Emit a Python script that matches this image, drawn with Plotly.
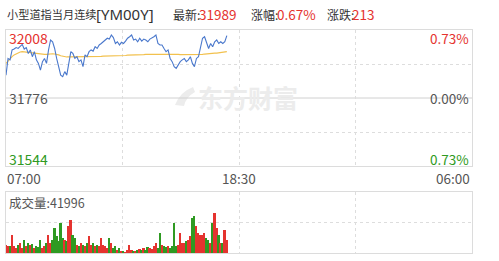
import plotly.graph_objects as go

# ---------------- data ----------------
prev_close = 31776
y_top, y_bot = 32008, 31544
pct_labels = ["0.73%", "0.00%", "0.73%"]
time_labels = ["07:00", "18:30", "06:00"]
session_minutes = 1380          # 07:00 -> 06:00 next day
step_minutes = 6

price = [31854, 31911, 31906, 31940, 31943, 31948, 31945, 31954, 31959, 31943,
         31948, 31928, 31940, 31917, 31934, 31906, 31894, 31871, 31900, 31911,
         31894, 31940, 31974, 31968, 31945, 31911, 31883, 31854, 31849, 31866,
         31854, 31889, 31934, 31928, 31911, 31917, 31900, 31906, 31883, 31923,
         31917, 31934, 31940, 31936, 31951, 31945, 31957, 31962, 31968, 31974,
         31980, 31977, 31991, 31982, 31962, 31968, 31957, 31966, 31962, 31970,
         31980, 31985, 31991, 31974, 31977, 31968, 31980, 31970, 31977, 31974,
         31968, 31977, 31980, 31985, 31991, 31962, 31957, 31957, 31945, 31934,
         31940, 31911, 31900, 31883, 31877, 31889, 31900, 31906, 31911, 31900,
         31906, 31917, 31894, 31883, 31911, 31917, 31945, 31980, 31985, 31968,
         31945, 31962, 31951, 31968, 31974, 31962, 31968, 31962, 31968, 31989]

avg_price = [31894, 31902, 31911, 31917, 31923, 31927, 31931, 31933, 31934, 31934,
             31933, 31932, 31931, 31930, 31928, 31927, 31926, 31925, 31925, 31925,
             31925, 31926, 31927, 31927, 31926, 31925, 31923, 31920, 31918, 31917,
             31916, 31916, 31916, 31916, 31916, 31916, 31916, 31916, 31916, 31917,
             31917, 31917, 31917, 31918, 31918, 31918, 31918, 31918, 31919, 31919,
             31919, 31919, 31920, 31920, 31920, 31920, 31920, 31921, 31921, 31921,
             31922, 31922, 31922, 31923, 31923, 31923, 31924, 31924, 31924, 31925,
             31925, 31925, 31926, 31926, 31927, 31927, 31927, 31927, 31927, 31927,
             31927, 31927, 31926, 31926, 31925, 31925, 31924, 31924, 31923, 31923,
             31923, 31923, 31923, 31923, 31923, 31923, 31924, 31925, 31926, 31927,
             31927, 31928, 31928, 31929, 31929, 31930, 31930, 31931, 31932, 31934]

volume = [25, 20, 20, 55, 20, 15, 25, 30, 15, 40,
          20, 30, 25, 28, 15, 22, 18, 40, 15, 20,
          30, 55, 30, 40, 75, 50, 35, 90, 45, 40,
          35, 80, 100, 55, 45, 25, 20, 30, 25, 20,
          30, 50, 25, 30, 20, 25, 20, 45, 25, 20,
          15, 45, 30, 15, 20, 10, 15, 5, 5, 3,
          8, 25, 8, 5, 5, 10, 12, 8, 15, 10,
          18, 15, 12, 20, 30, 15, 60, 25, 20, 18,
          20, 15, 20, 90, 20, 25, 60, 30, 30, 35,
          40, 50, 105, 110, 80, 60, 55, 55, 60, 45,
          40, 30, 90, 120, 75, 55, 30, 30, 70, 40]
vol_axis_max = 183

header_name = "小型道指当月连续"
header_code = "[YM00Y]"
last_price = "31989"
change_pct = "0.67%"
change_val = "213"
total_volume = "41996"

# ---------------- styling ----------------
W, H = 499, 261
RED = "#e5332f"
GREEN = "#2f9a22"
GREY = "#555555"
LINE_BLUE = "#4a78cc"
AVG_YEL = "#f2c14e"
FRAME = "#dcdcdc"
GRID = "#dddddd"
CJK = "Noto Sans CJK SC"

minutes = [i * step_minutes for i in range(len(price))]
bar_colors = [RED if (i == 0 or price[i] >= price[i - 1]) else GREEN for i in range(len(price))]

def px_x(p):
    return p / W

def px_y(p):
    return 1 - p / H

L, R = 6, 472
P_TOP, P_BOT = 30, 166
V_TOP, V_BOT = 192, 253

fig = go.Figure()
fig.add_trace(go.Scatter(x=minutes, y=avg_price, mode="lines",
                         line=dict(color=AVG_YEL, width=1.2), hoverinfo="skip",
                         xaxis="x", yaxis="y"))
fig.add_trace(go.Scatter(x=minutes, y=price, mode="lines",
                         line=dict(color=LINE_BLUE, width=1.1), hoverinfo="skip",
                         xaxis="x", yaxis="y"))
fig.add_trace(go.Bar(x=minutes, y=volume, marker=dict(color=bar_colors, line_width=0),
                     width=5.2, xaxis="x2", yaxis="y2", hoverinfo="skip"))

axis_common = dict(showline=True, mirror=True, linecolor=FRAME, linewidth=1,
                   zeroline=False, showticklabels=False, ticks="",
                   gridcolor=GRID, griddash="dot", gridwidth=1)

grid_x = [session_minutes / 4, session_minutes / 2, session_minutes * 3 / 4]
fig.update_layout(
    width=W, height=H, margin=dict(l=0, r=0, t=0, b=0),
    paper_bgcolor="white", plot_bgcolor="white", showlegend=False,
    bargap=0,
    xaxis=dict(domain=[px_x(L), px_x(R)], range=[0, session_minutes],
               tickvals=grid_x, anchor="y", **axis_common),
    yaxis=dict(domain=[px_y(P_BOT), px_y(P_TOP)], range=[y_bot, y_top],
               tickvals=[(y_bot + prev_close) / 2, (y_top + prev_close) / 2],
               anchor="x", **axis_common),
    xaxis2=dict(domain=[px_x(L), px_x(R)], range=[0, session_minutes],
                tickvals=grid_x, anchor="y2", **axis_common),
    yaxis2=dict(domain=[px_y(V_BOT), px_y(V_TOP)], range=[0, vol_axis_max],
                tickvals=[vol_axis_max / 2], anchor="x2", **axis_common),
)

# solid previous-close line
fig.add_shape(type="line", xref="x", yref="y", x0=0, x1=session_minutes,
              y0=prev_close, y1=prev_close, line=dict(color="#d0d0d0", width=1), layer="below")

ann = []
def text(x, y, s, color=GREY, size=13, xanchor="left", yanchor="middle", family=CJK, **kw):
    ann.append(dict(x=px_x(x), y=px_y(y), xref="paper", yref="paper", text=s,
                    showarrow=False, xanchor=xanchor, yanchor=yanchor,
                    font=dict(color=color, size=size, family=family), **kw))

# header
text(5, 14, header_name, color="#333333", size=11.2)
text(94, 14, header_code, color="#333333", size=15, family="Noto Sans")
text(171, 14, "最新:", color="#333333", size=12)
text(197, 14, last_price, color=RED, size=13.5)
text(249, 14, "涨幅:", color="#333333", size=12)
text(275, 14, change_pct, color=RED, size=13.5)
text(325, 14, "涨跌:", color="#333333", size=12)
text(350, 14, change_val, color=RED, size=13.5)

# price axis labels (inside plot)
text(7, 38, str(y_top), color=RED, size=14)
text(7, 98, str(prev_close), color=GREY, size=14)
text(7, 159, str(y_bot), color=GREEN, size=14)
text(471, 38, pct_labels[0], color=RED, size=13.5, xanchor="right")
text(471, 98, pct_labels[1], color=GREY, size=13.5, xanchor="right")
text(471, 159, pct_labels[2], color=GREEN, size=13.5, xanchor="right")

# time labels
text(5, 178, time_labels[0], size=13.5)
text(239, 178, time_labels[1], size=13.5, xanchor="center")
text(472, 178, time_labels[2], size=13.5, xanchor="right")

# volume label
text(7, 202, "成交量:" + total_volume, size=12.5)

# watermark
text(196, 97, "<b>东方财富</b>", color="#ececec", size=25)
fig.add_shape(type="path", xref="paper", yref="paper",
              path=f"M {px_x(175)} {px_y(105)} Q {px_x(180)} {px_y(92)} {px_x(193)} {px_y(87)} L {px_x(195)} {px_y(92)} Q {px_x(186)} {px_y(97)} {px_x(184)} {px_y(106)} Z",
              fillcolor="#ececec", line=dict(width=0), layer="below")

fig.update_layout(annotations=ann)
fig.write_html("out.html")
